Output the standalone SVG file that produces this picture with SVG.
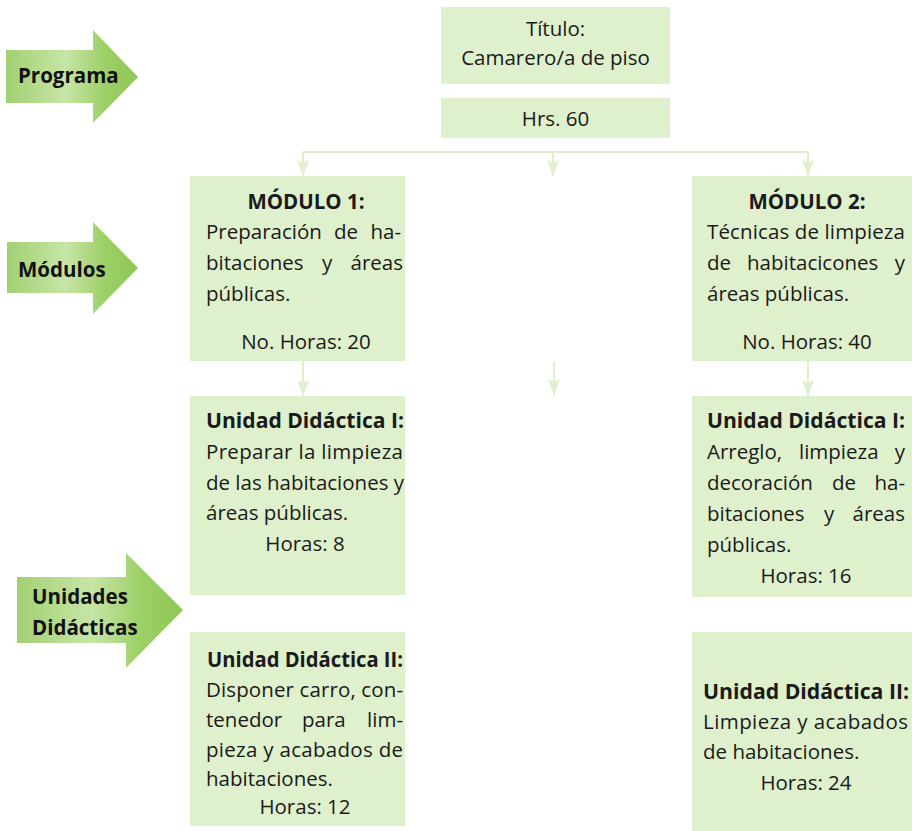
<svg xmlns="http://www.w3.org/2000/svg" width="912" height="831" viewBox="0 0 912 831">
<defs>
<linearGradient id="ag" x1="0" y1="0" x2="1" y2="0">
<stop offset="0" stop-color="#a2d071"/>
<stop offset="0.45" stop-color="#c7e5a7"/>
<stop offset="0.75" stop-color="#9dcf66"/>
<stop offset="1" stop-color="#8fc757"/>
</linearGradient>
<marker id="ad" viewBox="0 0 16 12" refX="16" refY="6" markerWidth="16" markerHeight="12" markerUnits="userSpaceOnUse" orient="auto">
<path d="M0,0 L3,6 L0,12 L16,6 Z" fill="#dff0cc"/>
</marker>
</defs>
<style>
.box{fill:#dff0cc}
.t{font-family:"Open Sans","Noto Sans","Liberation Sans",sans-serif;font-size:20.5px;fill:#1a1a1a}
.b{font-weight:bold}
.c{text-anchor:middle}
.e{text-anchor:end}
.lab{font-family:"Open Sans","Noto Sans","Liberation Sans",sans-serif;font-size:20.5px;font-weight:bold;fill:#111}
.cn{fill:none;stroke:#dff0cc;stroke-width:2}
</style>
<rect width="912" height="831" fill="#ffffff"/>

<g id="arrow-programa">
<path d="M6,50 H93 V30 L138,77 L93,123 V103 H6 Z" fill="url(#ag)"/>
<text class="lab" x="18" y="83">Programa</text>
</g>
<g id="arrow-modulos">
<path d="M7,242 H93 V222 L138,268 L93,314 V293 H7 Z" fill="url(#ag)"/>
<text class="lab" x="18" y="277">Módulos</text>
</g>
<g id="arrow-unidades">
<path d="M17,577 H126 V553 L183,610 L126,668 V643 H17 Z" fill="url(#ag)"/>
<text class="lab" x="32" y="604">Unidades</text>
<text class="lab" x="32" y="635">Didácticas</text>
</g>

<g id="connectors">
<path class="cn" d="M303,152 H808"/>
<path class="cn" d="M303,152 V176" marker-end="url(#ad)"/>
<path class="cn" d="M553,152 V176" marker-end="url(#ad)"/>
<path class="cn" d="M808,152 V176" marker-end="url(#ad)"/>
<path class="cn" d="M303,361 V396" marker-end="url(#ad)"/>
<path class="cn" d="M554,362 V395" marker-end="url(#ad)"/>
<path class="cn" d="M808,361 V396" marker-end="url(#ad)"/>
</g>

<g id="titulo">
<rect class="box" x="441" y="7" width="229" height="77"/>
<text class="t c" x="555.5" y="36">Título:</text>
<text class="t c" x="555.5" y="65">Camarero/a de piso</text>
</g>
<g id="hrs">
<rect class="box" x="441" y="98" width="229" height="40"/>
<text class="t c" x="555.5" y="126">Hrs. 60</text>
</g>

<g id="modulo1">
<rect class="box" x="190" y="176" width="215" height="185"/>
<text class="t b c" x="306" y="209">MÓDULO 1:</text>
<text class="t" x="206" y="239">Preparación</text>
<text class="t" x="334" y="239">de</text>
<text class="t e" x="401" y="239">ha-</text>
<text class="t" x="206" y="270">bitaciones</text>
<text class="t" x="322" y="270">y</text>
<text class="t e" x="403" y="270">áreas</text>
<text class="t" x="206" y="301">públicas.</text>
<text class="t c" x="306" y="349">No. Horas: 20</text>
</g>

<g id="modulo2">
<rect class="box" x="692" y="176" width="220" height="185"/>
<text class="t b c" x="807" y="209">MÓDULO 2:</text>
<text class="t" x="707" y="239" textLength="198" lengthAdjust="spacing">Técnicas de limpieza</text>
<text class="t" x="707" y="270">de</text>
<text class="t" x="747" y="270">habitacicones</text>
<text class="t e" x="905" y="270">y</text>
<text class="t" x="707" y="301">áreas públicas.</text>
<text class="t c" x="807" y="349">No. Horas: 40</text>
</g>

<g id="unidad1-m1">
<rect class="box" x="190" y="396" width="215" height="199"/>
<text class="t b" x="206" y="428" textLength="198" lengthAdjust="spacingAndGlyphs">Unidad Didáctica I:</text>
<text class="t" x="206" y="459" textLength="197" lengthAdjust="spacing">Preparar la limpieza</text>
<text class="t" x="206" y="490" textLength="198" lengthAdjust="spacing">de las habitaciones y</text>
<text class="t" x="206" y="520">áreas públicas.</text>
<text class="t c" x="305" y="551">Horas: 8</text>
</g>

<g id="unidad1-m2">
<rect class="box" x="692" y="396" width="220" height="201"/>
<text class="t b" x="707" y="428" textLength="198" lengthAdjust="spacingAndGlyphs">Unidad Didáctica I:</text>
<text class="t" x="707" y="459">Arreglo,</text>
<text class="t" x="799" y="459">limpieza</text>
<text class="t e" x="905" y="459">y</text>
<text class="t" x="707" y="490">decoración</text>
<text class="t" x="832" y="490">de</text>
<text class="t e" x="905" y="490">ha-</text>
<text class="t" x="707" y="521">bitaciones</text>
<text class="t" x="824" y="521">y</text>
<text class="t e" x="905" y="521">áreas</text>
<text class="t" x="707" y="552">públicas.</text>
<text class="t c" x="806" y="583">Horas: 16</text>
</g>

<g id="unidad2-m1">
<rect class="box" x="190" y="632" width="215" height="194"/>
<text class="t b" x="207" y="667" textLength="196" lengthAdjust="spacingAndGlyphs">Unidad Didáctica II:</text>
<text class="t" x="206" y="697" textLength="197" lengthAdjust="spacing">Disponer carro, con-</text>
<text class="t" x="206" y="727">tenedor</text>
<text class="t" x="302" y="727">para</text>
<text class="t e" x="403" y="727">lim-</text>
<text class="t" x="206" y="757" textLength="197" lengthAdjust="spacing">pieza y acabados de</text>
<text class="t" x="206" y="786">habitaciones.</text>
<text class="t c" x="305" y="814">Horas: 12</text>
</g>

<g id="unidad2-m2">
<rect class="box" x="692" y="632" width="220" height="199"/>
<text class="t b" x="703" y="699" textLength="206" lengthAdjust="spacingAndGlyphs">Unidad Didáctica II:</text>
<text class="t" x="703" y="729" textLength="205" lengthAdjust="spacing">Limpieza y acabados</text>
<text class="t" x="703" y="759">de habitaciones.</text>
<text class="t c" x="806" y="790">Horas: 24</text>
</g>
</svg>
